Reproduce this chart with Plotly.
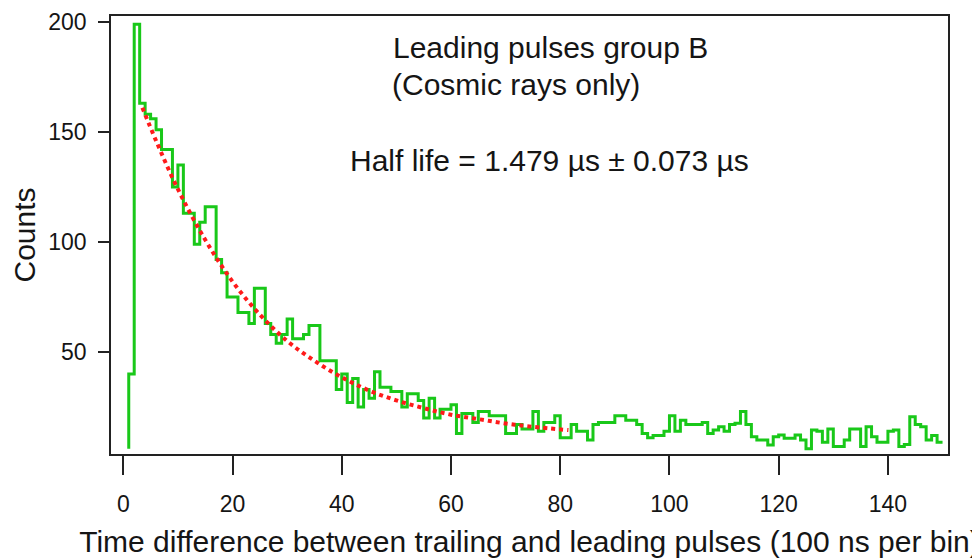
import plotly.graph_objects as go

# Histogram counts, bin i spans [i, i+1], i = 1..149 (100 ns per bin)
bin_start = 1
start_level = 6
counts = [
    40, 199, 163, 158, 156, 151, 142, 142, 125, 135,
    113, 113, 99, 109, 116, 116, 92, 86, 75, 75,
    68, 68, 63, 79, 79, 63, 58, 54, 58, 65,
    56, 56, 58, 62, 62, 46, 46, 46, 33, 40,
    27, 38, 25, 33, 29, 41, 34, 34, 32, 32,
    25, 31, 31, 28, 20, 29, 20, 24, 24, 26,
    13, 22, 22, 18, 23, 23, 21, 21, 21, 13,
    13, 17, 15, 15, 23, 14, 18, 18, 21, 11,
    11, 17, 14, 14, 10, 17, 18, 18, 18, 21,
    21, 19, 19, 17, 13, 11, 12, 12, 14, 21,
    14, 19, 17, 17, 17, 18, 13, 14.5, 16, 14,
    17, 17.6, 23, 17, 11.5, 10, 10, 7.7, 11.5, 12.3,
    10.8, 10.8, 12.3, 10, 6, 14.5, 14, 9, 15, 7,
    7, 10, 15, 15, 7, 16, 11.5, 9, 9, 14,
    14.5, 7, 8, 20.6, 17, 16, 10, 12, 9,
]

# Exponential fit curve
fit_x = [3.5, 6, 10, 15, 20, 25, 30, 35, 40, 45, 50, 55, 60, 65, 70, 75, 81.5]
fit_y = [161, 146, 124, 101, 82, 67, 55, 46, 38.5, 32.5, 28, 24.5, 21.5, 19.5, 17.5, 16, 14.5]

x_ticks = [0, 20, 40, 60, 80, 100, 120, 140]
y_ticks = [50, 100, 150, 200]

title_line1 = "Leading pulses group B"
title_line2 = "(Cosmic rays only)"
fit_text = "Half life = 1.479 \u00b5s \u00b1 0.073 \u00b5s"
x_title = "Time difference between trailing and leading pulses (100 ns per bin)"
y_title = "Counts"

n = len(counts)
hx = [bin_start] + [bin_start + i for i in range(n)] + [bin_start + n]
hy = [start_level] + counts + [counts[-1]]

FONT = "Arial, Liberation Sans, sans-serif"
INK = "#151515"
AX = "#222222"

# the page body adds an 8px offset on the left and top
OFF = 8
W, H = 980 - OFF, 558 - OFF
L, T, R, B = 111 - OFF, 16 - OFF, 32, 104
PW, PH = W - L - R, H - T - B

fig = go.Figure()
fig.add_trace(go.Scatter(
    x=hx, y=hy, mode="lines", line_shape="hv",
    line=dict(color="#19C819", width=3), hoverinfo="skip"))
fig.add_trace(go.Scatter(
    x=fit_x, y=fit_y, mode="lines", line_shape="spline",
    line=dict(color="#FF1A1A", width=4, dash="4px,4px"), hoverinfo="skip"))

fig.update_layout(
    width=W, height=H,
    margin=dict(l=L, r=R, t=T, b=B),
    paper_bgcolor="white", plot_bgcolor="white",
    showlegend=False,
    font=dict(family=FONT, color=INK),
)
fig.update_xaxes(
    automargin=False,
    range=[-2.25, 151], tickvals=x_ticks, ticks="outside", ticklen=19,
    tickwidth=1.5, tickcolor=AX, showline=True, linecolor=AX, linewidth=1.5,
    mirror=True, showgrid=False, zeroline=False,
    tickfont=dict(size=23, family=FONT, color=INK), ticklabelstandoff=10,
    title=dict(text=x_title, font=dict(size=30, family=FONT, color=INK), standoff=16),
)
fig.update_yaxes(
    automargin=False,
    range=[3.64, 202.7], tickvals=y_ticks, ticks="outside", ticklen=11,
    tickwidth=1.5, tickcolor=AX, showline=True, linecolor=AX, linewidth=1.5,
    mirror=True, showgrid=False, zeroline=False,
    tickfont=dict(size=23, family=FONT, color=INK), ticklabelstandoff=7,
    title=dict(text=y_title, font=dict(size=30, family=FONT, color=INK), standoff=11),
)

for txt, xp, ypx in [(title_line1, 391, 47), (title_line2, 390, 84), (fit_text, 348, 161)]:
    fig.add_annotation(
        text=txt, xref="paper", yref="paper",
        x=(xp - 111) / PW, y=(454 - ypx) / PH,
        xanchor="left", yanchor="middle", showarrow=False,
        font=dict(size=30, family=FONT, color=INK))

fig.write_html("out.html")
